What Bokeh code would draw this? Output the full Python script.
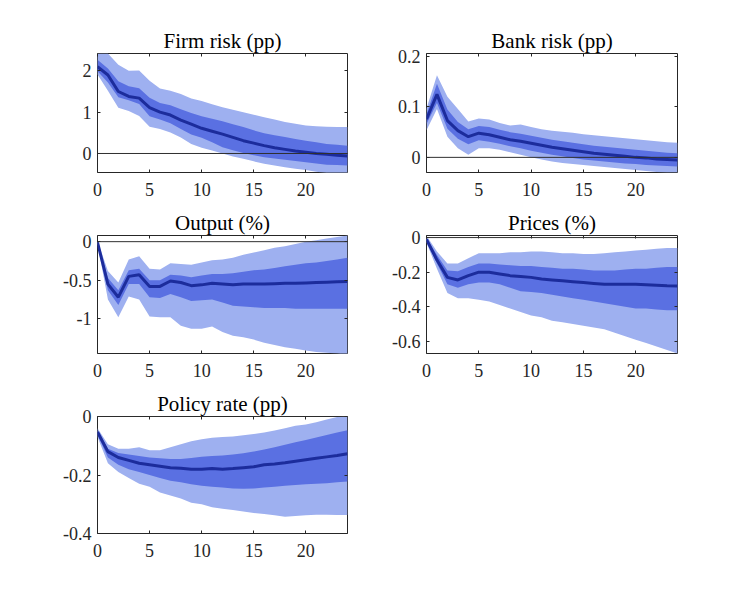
from bokeh.plotting import figure
from bokeh.models import Range1d, FixedTicker, LinearAxis, Span
from bokeh.layouts import column, row
from bokeh.embed import file_html
from bokeh.resources import INLINE

horizon = list(range(25))
x_ticks = [0, 5, 10, 15, 20]

# Firm risk (pp)
firm_med = [2.10, 1.90, 1.50, 1.38, 1.34, 1.11, 1.00, 0.93, 0.81, 0.71, 0.61, 0.54, 0.47, 0.39, 0.31, 0.25, 0.19, 0.14, 0.10, 0.06, 0.03, 0.00, -0.02, -0.04, -0.06]
firm_hi68 = [2.27, 2.06, 1.75, 1.63, 1.58, 1.35, 1.22, 1.17, 1.07, 0.98, 0.90, 0.84, 0.78, 0.71, 0.64, 0.56, 0.49, 0.44, 0.40, 0.35, 0.31, 0.27, 0.23, 0.21, 0.19]
firm_lo68 = [1.99, 1.72, 1.36, 1.29, 1.20, 0.90, 0.82, 0.73, 0.59, 0.46, 0.38, 0.27, 0.15, 0.08, 0.01, -0.04, -0.09, -0.12, -0.15, -0.18, -0.21, -0.24, -0.27, -0.28, -0.29]
firm_hi90 = [2.42, 2.42, 2.15, 2.00, 2.01, 1.76, 1.57, 1.52, 1.44, 1.33, 1.27, 1.19, 1.12, 1.06, 1.00, 0.94, 0.88, 0.82, 0.76, 0.72, 0.68, 0.66, 0.65, 0.64, 0.64]
firm_lo90 = [1.91, 1.52, 1.11, 1.03, 0.91, 0.65, 0.59, 0.51, 0.39, 0.23, 0.14, 0.07, 0.00, -0.07, -0.13, -0.19, -0.25, -0.29, -0.33, -0.37, -0.40, -0.44, -0.47, -0.49, -0.50]
firm_yrange = [-0.46, 2.42]
firm_yticks = [0, 1, 2]
firm_ylabels = ["0", "1", "2"]

# Bank risk (pp)
bank_med = [0.076, 0.125, 0.073, 0.053, 0.041, 0.048, 0.045, 0.040, 0.035, 0.032, 0.028, 0.024, 0.020, 0.017, 0.014, 0.011, 0.008, 0.006, 0.004, 0.002, 0.000, -0.001, -0.003, -0.004, -0.005]
bank_hi68 = [0.086, 0.146, 0.095, 0.070, 0.056, 0.062, 0.060, 0.055, 0.050, 0.047, 0.043, 0.039, 0.035, 0.032, 0.029, 0.026, 0.023, 0.021, 0.019, 0.017, 0.015, 0.013, 0.011, 0.009, 0.008]
bank_lo68 = [0.066, 0.108, 0.057, 0.037, 0.026, 0.034, 0.031, 0.027, 0.022, 0.018, 0.013, 0.009, 0.005, 0.002, -0.001, -0.004, -0.006, -0.008, -0.010, -0.012, -0.013, -0.015, -0.016, -0.017, -0.018]
bank_hi90 = [0.097, 0.163, 0.120, 0.096, 0.071, 0.077, 0.075, 0.068, 0.063, 0.065, 0.060, 0.056, 0.053, 0.051, 0.049, 0.046, 0.044, 0.042, 0.040, 0.038, 0.036, 0.034, 0.032, 0.030, 0.029]
bank_lo90 = [0.054, 0.096, 0.041, 0.018, 0.005, 0.018, 0.018, 0.015, 0.010, 0.005, 0.000, -0.004, -0.008, -0.011, -0.013, -0.015, -0.017, -0.019, -0.021, -0.023, -0.025, -0.027, -0.029, -0.030, -0.030]
bank_yrange = [-0.030, 0.206]
bank_yticks = [0, 0.1, 0.2]
bank_ylabels = ["0", "0.1", "0.2"]

# Output (%)
out_med = [-0.01, -0.55, -0.72, -0.45, -0.43, -0.58, -0.58, -0.51, -0.53, -0.57, -0.56, -0.54, -0.55, -0.56, -0.55, -0.55, -0.55, -0.545, -0.54, -0.54, -0.535, -0.53, -0.525, -0.52, -0.515]
out_hi68 = [-0.005, -0.47, -0.63, -0.37, -0.35, -0.50, -0.50, -0.43, -0.44, -0.46, -0.44, -0.42, -0.42, -0.41, -0.39, -0.37, -0.36, -0.34, -0.32, -0.30, -0.28, -0.27, -0.25, -0.23, -0.21]
out_lo68 = [-0.02, -0.63, -0.82, -0.55, -0.55, -0.72, -0.73, -0.68, -0.72, -0.77, -0.76, -0.75, -0.79, -0.83, -0.84, -0.85, -0.86, -0.86, -0.86, -0.87, -0.87, -0.87, -0.87, -0.87, -0.87]
out_hi90 = [0.01, -0.38, -0.53, -0.23, -0.19, -0.35, -0.36, -0.28, -0.29, -0.30, -0.27, -0.24, -0.23, -0.21, -0.17, -0.14, -0.11, -0.08, -0.06, -0.03, 0.00, 0.02, 0.04, 0.06, 0.08]
out_lo90 = [-0.03, -0.75, -0.98, -0.71, -0.75, -0.97, -0.98, -0.98, -1.09, -1.13, -1.13, -1.10, -1.17, -1.22, -1.24, -1.27, -1.31, -1.34, -1.37, -1.39, -1.41, -1.43, -1.44, -1.45, -1.47]
out_yrange = [-1.45, 0.08]
out_yticks = [-1, -0.5, 0]
out_ylabels = ["-1", "-0.5", "0"]

# Prices (%)
price_med = [-0.01, -0.13, -0.23, -0.245, -0.22, -0.20, -0.20, -0.21, -0.22, -0.225, -0.23, -0.24, -0.245, -0.25, -0.255, -0.26, -0.265, -0.27, -0.27, -0.27, -0.27, -0.272, -0.275, -0.278, -0.28]
price_hi68 = [-0.005, -0.10, -0.19, -0.195, -0.17, -0.15, -0.15, -0.155, -0.16, -0.165, -0.165, -0.17, -0.175, -0.18, -0.18, -0.185, -0.19, -0.19, -0.19, -0.185, -0.18, -0.18, -0.175, -0.17, -0.17]
price_lo68 = [-0.015, -0.15, -0.27, -0.29, -0.27, -0.26, -0.26, -0.27, -0.29, -0.31, -0.315, -0.32, -0.33, -0.34, -0.35, -0.36, -0.37, -0.38, -0.39, -0.40, -0.41, -0.41, -0.415, -0.42, -0.42]
price_hi90 = [0.01, -0.08, -0.15, -0.15, -0.12, -0.09, -0.09, -0.09, -0.085, -0.085, -0.08, -0.08, -0.085, -0.09, -0.09, -0.095, -0.095, -0.09, -0.085, -0.08, -0.075, -0.07, -0.065, -0.06, -0.06]
price_lo90 = [-0.03, -0.18, -0.32, -0.35, -0.35, -0.36, -0.37, -0.39, -0.41, -0.43, -0.45, -0.46, -0.48, -0.49, -0.50, -0.51, -0.52, -0.53, -0.55, -0.57, -0.59, -0.61, -0.63, -0.65, -0.67]
price_yrange = [-0.67, 0.012]
price_yticks = [-0.6, -0.4, -0.2, 0]
price_ylabels = ["-0.6", "-0.4", "-0.2", "0"]

# Policy rate (pp)
rate_med = [-0.053, -0.12, -0.14, -0.15, -0.16, -0.165, -0.17, -0.175, -0.177, -0.18, -0.18, -0.178, -0.18, -0.178, -0.175, -0.172, -0.165, -0.162, -0.158, -0.153, -0.148, -0.143, -0.138, -0.133, -0.127]
rate_hi68 = [-0.048, -0.11, -0.125, -0.13, -0.135, -0.14, -0.143, -0.145, -0.145, -0.142, -0.138, -0.135, -0.133, -0.13, -0.126, -0.12, -0.113, -0.105, -0.097, -0.088, -0.08, -0.072, -0.063, -0.055, -0.047]
rate_lo68 = [-0.062, -0.14, -0.165, -0.18, -0.19, -0.20, -0.21, -0.22, -0.225, -0.232, -0.237, -0.24, -0.243, -0.246, -0.247, -0.246, -0.243, -0.24, -0.237, -0.234, -0.232, -0.23, -0.228, -0.225, -0.222]
rate_hi90 = [-0.04, -0.095, -0.11, -0.11, -0.105, -0.115, -0.115, -0.105, -0.095, -0.085, -0.078, -0.073, -0.07, -0.068, -0.064, -0.06, -0.055, -0.048, -0.04, -0.032, -0.027, -0.02, -0.01, -0.002, 0.0]
rate_lo90 = [-0.07, -0.16, -0.19, -0.21, -0.23, -0.24, -0.26, -0.27, -0.28, -0.295, -0.30, -0.31, -0.315, -0.32, -0.325, -0.33, -0.333, -0.338, -0.343, -0.34, -0.338, -0.336, -0.336, -0.337, -0.337]
rate_yrange = [-0.4, 0.0]
rate_yticks = [-0.4, -0.2, 0]
rate_ylabels = ["-0.4", "-0.2", "0"]

FONT = "Liberation Serif"
LIGHT = "#9eb0f0"
MID = "#5a70e2"
DARK = "#1c2c9c"
INK = "#262626"


def panel(title, med, lo68, hi68, lo90, hi90, yrange, yticks, ylabels,
          bl, br, bt, bb, fw, fh):
    p = figure(width=bl + fw + br, height=bt + fh + bb,
               x_range=Range1d(0, 24), y_range=Range1d(yrange[0], yrange[1]),
               output_backend="svg", toolbar_location=None,
               min_border_left=bl, min_border_right=br,
               min_border_top=bt, min_border_bottom=bb,
               x_axis_location=None, y_axis_location=None)
    p.grid.visible = False
    p.background_fill_color = "white"
    p.border_fill_color = "white"
    p.outline_line_color = INK
    p.outline_line_width = 1
    p.title.text = title
    p.title.align = "center"
    p.title.text_font = FONT
    p.title.text_font_size = "21px"
    p.title.text_font_style = "normal"
    p.title.text_color = "#000000"
    p.title.standoff = 2

    p.varea(x=horizon, y1=lo90, y2=hi90, fill_color=LIGHT, fill_alpha=1.0)
    p.varea(x=horizon, y1=lo68, y2=hi68, fill_color=MID, fill_alpha=1.0)
    p.line(x=horizon, y=med, line_color=DARK, line_width=3)
    p.add_layout(Span(location=0, dimension="width", line_color="#303030", line_width=1))

    overrides = {t: l for t, l in zip(yticks, ylabels)}
    xo = {t: str(t) for t in x_ticks}

    def style(ax, labels=True):
        ax.axis_line_color = None
        ax.major_tick_in = 3
        ax.major_tick_out = 0
        ax.minor_tick_line_color = None
        ax.major_tick_line_color = INK
        if labels:
            ax.major_label_text_font = FONT
            ax.major_label_text_font_size = "18px"
            ax.major_label_text_color = INK
        else:
            ax.major_label_text_color = None
            ax.major_label_text_font_size = "1px"
            ax.major_label_standoff = 0

    bx = LinearAxis(ticker=FixedTicker(ticks=x_ticks), major_label_overrides=xo)
    style(bx)
    bx.major_label_standoff = 10
    p.add_layout(bx, "below")
    ly = LinearAxis(ticker=FixedTicker(ticks=yticks), major_label_overrides=overrides)
    style(ly)
    ly.major_label_standoff = 6
    p.add_layout(ly, "left")
    tx = LinearAxis(ticker=FixedTicker(ticks=x_ticks))
    style(tx, labels=False)
    p.add_layout(tx, "above")
    ry = LinearAxis(ticker=FixedTicker(ticks=yticks))
    style(ry, labels=False)
    p.add_layout(ry, "right")
    return p


p1 = panel("Firm risk (pp)", firm_med, firm_lo68, firm_hi68, firm_lo90, firm_hi90,
           firm_yrange, firm_yticks, firm_ylabels, 97, 10, 53, 30, 250, 119)
p2 = panel("Bank risk (pp)", bank_med, bank_lo68, bank_hi68, bank_lo90, bank_hi90,
           bank_yrange, bank_yticks, bank_ylabels, 69, 20, 53, 30, 251, 119)
p3 = panel("Output (%)", out_med, out_lo68, out_hi68, out_lo90, out_hi90,
           out_yrange, out_yticks, out_ylabels, 97, 10, 33, 30, 250, 118)
p4 = panel("Prices (%)", price_med, price_lo68, price_hi68, price_lo90, price_hi90,
           price_yrange, price_yticks, price_ylabels, 69, 20, 33, 30, 251, 118)
p5 = panel("Policy rate (pp)", rate_med, rate_lo68, rate_hi68, rate_lo90, rate_hi90,
           rate_yrange, rate_yticks, rate_ylabels, 97, 10, 33, 30, 250, 117)

layout = column(row(p1, p2), row(p3, p4), row(p5))

open("out.html", "w").write(file_html(layout, INLINE))
